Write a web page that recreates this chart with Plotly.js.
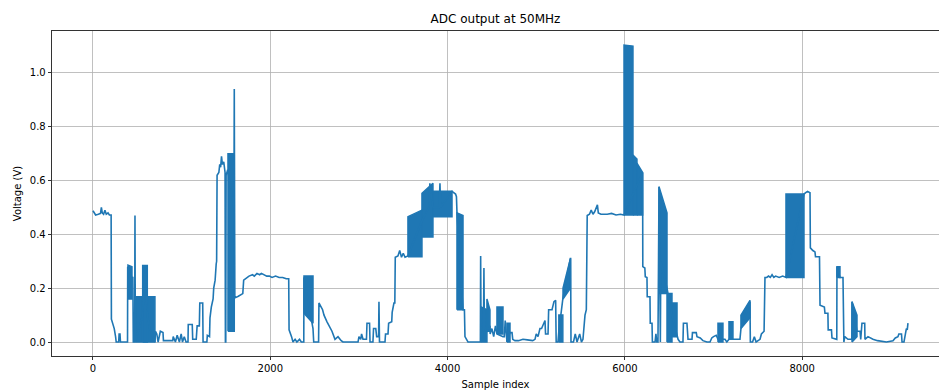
<!DOCTYPE html>
<html>
<head>
<meta charset="utf-8">
<script src="https://cdn.plot.ly/plotly-3.0.1.min.js"></script>
<style>html,body{margin:0;padding:0;background:#fff;}#chart{width:939px;height:390px;}</style>
</head>
<body>
<div id="chart"></div>
<script>
// Breakpoints of the trace (sample index, volts)
const lineIdx = [0,15,30,60,85,95,105,120,135,150,170,185,205,208,225,240,255,262,290,295,305,310,390,392,440,450,455,470,474,478,
 561,590,613,640,699,700,705,720,735,760,790,795,900,905,930,950,975,995,1010,1030,1050,1072,1075,1120,1125,1165,1175,1200,1205,1238,1242,1285,1290,1315,1320,1335,1355,1362,1378,1390,1395,1400,1420,1430,1440,1450,1460,1475,1490,1494,1498,1502,1520,1590,1594,1600,1605,1640,1660,1680,1690,1700,1720,1740,1760,1800,1820,1850,1880,1900,1930,1960,1990,2020,2060,2100,2140,2180,2208,2212,2240,2256,2280,2300,2330,2350,2378,2380,2482,2490,2545,2549,2590,2606,2640,2696,2730,2764,2800,2820,2990,3000,3020,3030,3046,3085,3091,3120,3125,3158,3165,3190,3200,3222,3226,3232,3294,3300,3328,3335,3370,3375,3395,3405,3410,3440,3460,3480,3500,3520,3553,3711,3790,3800,3835,3905,3914,3922,4050,4070,4090,4100,4106,4174,4190,4196,4230,4370,4373,4378,4405,4410,4415,4444,4478,4480,4500,4520,4540,4557,4625,4640,4650,4665,4670,4704,4727,4735,4760,4800,4850,4900,4960,4986,5000,5020,5042,5060,5099,5105,5133,5140,5178,5200,5219,5225,5245,5255,5300,5385,5388,5392,5420,5440,5460,5490,5510,5527,5535,5550,5565,5575,5600,5620,5640,5660,5690,5700,5730,5800,5850,5900,5950,5990,6200,6202,6225,6230,6249,6252,6283,6286,6306,6310,6340,6350,6360,6373,6385,6395,6400,6405,6475,6531,6588,6600,6621,6655,6660,6700,6712,6757,6762,6805,6813,6850,6880,6926,6960,6980,7000,7030,7050,7106,7129,7150,7174,7219,7298,7309,7411,7415,7440,7460,7480,7524,7540,7570,7580,7600,7620,7640,7660,7680,7700,7740,7780,7817,8020,8040,8060,8088,8092,8120,8144,8150,8195,8201,8250,8257,8290,8293,8330,8336,8390,8392,8426,8460,8465,8470,8480,8516,8560,8562,8618,8652,8660,8674,8705,8708,8742,8798,8850,8950,9024,9050,9080,9090,9120,9126,9148,9160,9175,9185,9193];
const lineV = [0.488,0.48,0.472,0.475,0.478,0.50,0.48,0.475,0.49,0.475,0.48,0.472,0.472,0.085,0.07,0.05,0.02,0,0,0.03,0.03,0,0,0.28,0.24,0.24,0.0,0,0.47,0.0,
 0.1,0.284,0.1,0.05,0.0,0.0,0.04,0.03,0,0.04,0.035,0.005,0.005,0.02,0,0.025,0,0.03,0,0.02,0,0,0.065,0.065,0.01,0.01,0.06,0.06,0.145,0.145,0,0,0.025,0.02,0.09,0.13,0.16,0.2,0.23,0.29,0.30,0.62,0.63,0.66,0.65,0.69,0.66,0.67,0.63,0,0,0.62,0.64,0.5,0.94,0.17,0.165,0.17,0.175,0.18,0.18,0.23,0.235,0.24,0.245,0.25,0.245,0.255,0.25,0.255,0.25,0.245,0.245,0.24,0.245,0.24,0.24,0.235,0.235,0.045,0.02,0,0.01,0,0.01,0,0,0.24,0.05,0,0,0.145,0.12,0.1,0.075,0.04,0.01,0.02,0.005,0.0,0,0.02,0.01,0.03,0.01,0.01,0.07,0.07,0.0,0.0,0.05,0.05,0.02,0.02,0.15,0.0,0,0.03,0.03,0.07,0.075,0.11,0.145,0.145,0.315,0.32,0.34,0.315,0.33,0.315,0.32,0.45,0.5,0.59,0.5,0.5,0.59,0.5,0.56,0.555,0.55,0.54,0.48,0.12,0.12,0.02,0,0,0.32,0.0,0.05,0.275,0.05,0.04,0.06,0.03,0.05,0.02,0.06,0.03,0.02,0.02,0.08,0.03,0.0,0.035,0.035,0.01,0.005,0.005,0.01,0.008,0.005,0.01,0.03,0.02,0.05,0.05,0.08,0.03,0.03,0.12,0.12,0.15,0.155,0.0,0.0,0.04,0.16,0.31,0.31,0.0,0.0,0.03,0.0,0.03,0.0,0.01,0.05,0.1,0.12,0.47,0.475,0.49,0.475,0.485,0.51,0.48,0.475,0.475,0.478,0.472,0.475,0.472,0.63,0.28,0.275,0.243,0.24,0.168,0.168,0.07,0.07,0,0,0.03,0.0,0,0.577,0.3,0.0,0.3,0.2,0.1,0.02,0.01,0.0,0.0,0.07,0.07,0.01,0.01,0.035,0.035,0.02,0.015,0.005,0.0,0.0,0.015,0.02,0.025,0.01,0.01,0.01,0.0,0.01,0.01,0.01,0.05,0.15,0.0,0.0,0.02,0.0,0.01,0.03,0.04,0.24,0.24,0.245,0.24,0.25,0.24,0.245,0.24,0.245,0.24,0.55,0.555,0.56,0.555,0.35,0.34,0.335,0.317,0.317,0.137,0.13,0.107,0.107,0.045,0.045,0.015,0.01,0.28,0.24,0.24,0.0,0.0,0.02,0.01,0.01,0.15,0.04,0.04,0.01,0.07,0.07,0.01,0.02,0.01,0.005,0.0,0.005,0.015,0.02,0.03,0.03,0.0,0.0,0.03,0.05,0.045,0.07];

// Dense oscillation bursts: sample span and low/high envelope at start and end
const burstStart = [395,478,561,1523,2380,3553,3711,3835,4106,4378,4444,4557,4670,5255,5302,5990,6091,6136,6385,6475,6531,7050,7174,7309,7817,8392,8562];
const burstEnd   = [440,699,613,1594,2482,3711,3835,4050,4174,4444,4478,4625,4704,5300,5385,6091,6136,6200,6475,6531,6588,7106,7219,7411,8020,8426,8618];
const burstLo0   = [0.16,0,0,0.04,0.107,0.317,0.39,0.466,0.12,0,0.04,0.03,0,0,0.16,0.472,0.472,0.472,0.18,0,0.02,0,0.01,0.05,0.24,0.24,0];
const burstLo1   = [0.16,0,0,0.04,0.07,0.317,0.39,0.466,0.12,0,0.04,0.03,0,0,0.2,0.472,0.472,0.472,0.18,0,0.02,0,0.01,0.09,0.24,0.24,0.02];
const burstHi0   = [0.286,0.168,0.284,0.70,0.245,0.466,0.553,0.56,0.48,0.13,0.16,0.13,0.07,0.1,0.2,1.104,0.695,0.665,0.577,0.18,0.145,0.07,0.075,0.1,0.55,0.28,0.15];
const burstHi1   = [0.28,0.168,0.284,0.70,0.245,0.49,0.59,0.56,0.47,0.12,0.12,0.13,0.07,0.1,0.31,1.10,0.68,0.63,0.48,0.18,0.145,0.07,0.075,0.155,0.55,0.28,0.1];

const xTicks = [0,2000,4000,6000,8000];
const yTicks = [0.0,0.2,0.4,0.6,0.8,1.0];

const blue = '#1f77b4';
const bx = [], by = [];
for (let i = 0; i < burstStart.length; i++) {
  bx.push(burstStart[i], burstEnd[i], burstEnd[i], burstStart[i], burstStart[i], null);
  by.push(burstLo0[i], burstLo1[i], burstHi1[i], burstHi0[i], burstLo0[i], null);
}

const traces = [
  {x: bx, y: by, type: 'scatter', mode: 'lines', fill: 'toself', fillcolor: blue,
   line: {color: blue, width: 1.5}, connectgaps: false, hoverinfo: 'skip', showlegend: false},
  {x: lineIdx, y: lineV, type: 'scatter', mode: 'lines', line: {color: blue, width: 1.6}, showlegend: false}
];

const font = {family: 'DejaVu Sans, sans-serif', size: 10, color: '#000'};
const layout = {
  width: 939, height: 390,
  margin: {l: 52, r: 0, t: 31, b: 34, pad: 0},
  paper_bgcolor: '#fff', plot_bgcolor: '#fff',
  font: font,
  showlegend: false,
  title: {text: 'ADC output at 50MHz', font: {family: 'DejaVu Sans, sans-serif', size: 12, color: '#000'},
          x: 0.5, xanchor: 'center', xref: 'paper', y: 1 - 19/390, yanchor: 'middle'},
  xaxis: {range: [-462, 9543], tickvals: xTicks, ticktext: xTicks.map(String),
          showgrid: true, gridcolor: '#b0b0b0', gridwidth: 0.8, zeroline: false,
          showline: true, linecolor: '#000', linewidth: 0.8, mirror: true,
          ticks: 'outside', ticklen: 3.5, tickwidth: 0.8, tickcolor: '#000',
          tickfont: font, title: {text: 'Sample index', font: font, standoff: 7}},
  yaxis: {range: [-0.052, 1.156], tickvals: yTicks, ticktext: yTicks.map(v => v.toFixed(1)),
          showgrid: true, gridcolor: '#b0b0b0', gridwidth: 0.8, zeroline: false,
          showline: true, linecolor: '#000', linewidth: 0.8, mirror: true,
          ticks: 'outside', ticklen: 3.5, tickwidth: 0.8, tickcolor: '#000',
          tickfont: font, title: {text: 'Voltage (V)', font: font, standoff: 6}}
};

Plotly.newPlot('chart', traces, layout, {displayModeBar: false, staticPlot: true});
</script>
</body>
</html>
